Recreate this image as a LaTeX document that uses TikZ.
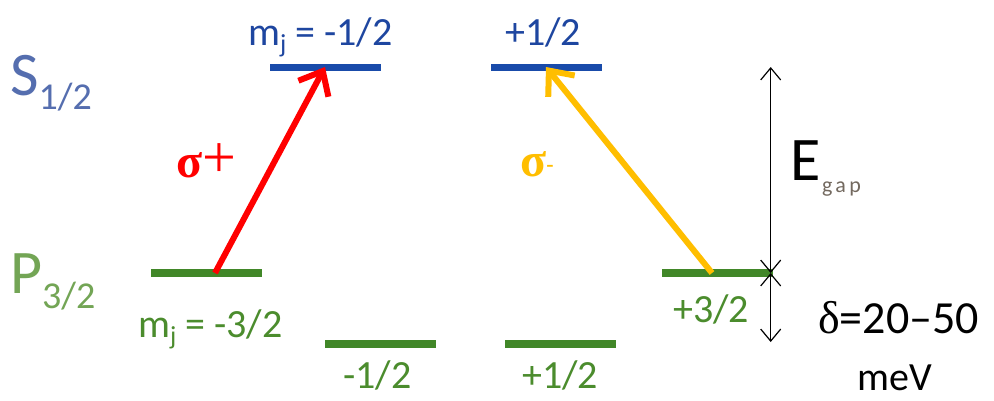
\documentclass[tikz,border=0pt]{standalone}
\usepackage{fontspec}
\setmainfont{Carlito}
\newfontfamily\serifb{Liberation Serif}
\usetikzlibrary{arrows.meta,calc}
\definecolor{barblue}{RGB}{25,75,170}
\definecolor{txtblue}{RGB}{30,70,160}
\definecolor{sblue}{RGB}{85,110,175}
\definecolor{bargreen}{RGB}{65,135,40}
\definecolor{txtgreen}{RGB}{75,140,45}
\definecolor{pgreen}{RGB}{115,165,85}
\definecolor{sorange}{RGB}{255,190,0}
\definecolor{gapgray}{RGB}{115,105,95}
\newcommand{\fs}[1]{\fontsize{#1}{#1}\selectfont}
\begin{document}
\begin{tikzpicture}[x=1pt,y=-1pt,
  bar/.style={rectangle, inner sep=0pt, minimum width=111pt, minimum height=7pt},
  lbl/.style={inner sep=0pt, anchor=base west, font=\fs{40}},
  big/.style={inner sep=0pt, anchor=base west, font=\fs{62}},
  thick arrow/.style={line width=6pt, -{Straight Barb[length=20pt,width=34pt]}},
  thin arrow/.style={line width=1.2pt, {Straight Barb[length=12pt,width=20pt]}-{Straight Barb[length=12pt,width=20pt]}}]
\useasboundingbox[fill=white] (0,0) rectangle (994,400);
% levels
\node[bar, fill=barblue] (s1) at (325,67) {};
\node[bar, fill=barblue] (s2) at (546,67) {};
\node[bar, fill=bargreen, minimum height=8pt] (p1) at (206,273) {};
\node[bar, fill=bargreen, minimum height=8pt] (p2) at (380,344) {};
\node[bar, fill=bargreen, minimum height=8pt] (p3) at (560,344) {};
\node[bar, fill=bargreen, minimum height=8pt] (p4) at (717,273) {};
% term symbols
\node[big, text=sblue] (S) at (10,95) {S\raisebox{-14pt}{\fs{38}1/2}};
\node[big, text=pgreen] (P) at (10,293) {P\raisebox{-15pt}{\fs{38}3/2}};
% m_j labels
\node[lbl, text=txtblue] (l1) at (248,45) {m\raisebox{-7pt}{\fs{26}j} = -1/2};
\node[lbl, text=txtblue] (l2) at (505,45) {+1/2};
\node[lbl, text=txtgreen] (l3) at (138,337) {m\raisebox{-7pt}{\fs{26}j} = -3/2};
\node[lbl, text=txtgreen] (l4) at (343,388) {-1/2};
\node[lbl, text=txtgreen] (l5) at (522,388) {+1/2};
\node[lbl, text=txtgreen] (l6) at (673,322) {+3/2};
% transitions
\draw[thick arrow, red] ($(p1.center)+(9,0)$) -- (s1.center);
\draw[thick arrow, sorange] ($(p4.center)+(-5,0)$) -- (s2.center);
\node[inner sep=0pt, anchor=base west, text=red, font=\serifb\fs{48}] (sp) at (176,177) {{\bfseries σ}\fs{60}+};
\node[inner sep=0pt, anchor=base west, text=sorange, font=\serifb\bfseries\fs{48}] (sm) at (520,176) {σ\raisebox{5pt}{\fs{22}-}};
% energy gaps
\coordinate (gtop) at (p4.east |- s2.center);
\coordinate (dbot) at ($(p4.east |- p3.center)+(0,-2)$);
\draw[thin arrow] ($(p4.east)+(-2,0)$) -- ($(gtop)+(-2,0)$);
\draw[thin arrow] ($(p4.east)+(-2,0)$) -- ($(dbot)+(-2,0)$);
\node[big, text=black] (E) at (790,180) {E};
\node[inner sep=0pt, anchor=base west, text=gapgray, font=\fs{22}\addfontfeature{LetterSpace=15}] (gap) at (822,192) {gap};
\node[inner sep=0pt, anchor=base west, font=\fs{46}] (d) at (818,333) {{\serifb δ}=20–50};
\node[inner sep=0pt, anchor=base west, font=\fs{40}] (mev) at (857,390) {meV};
\end{tikzpicture}
\end{document}
